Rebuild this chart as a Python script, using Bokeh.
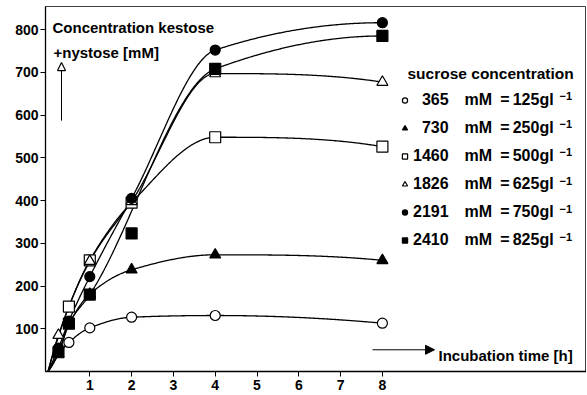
import numpy as np
from bokeh.plotting import figure
from bokeh.models import (FixedTicker, Arrow, NormalHead, Label, Legend,
                          LegendItem, Range1d)
from bokeh.embed import file_html
from bokeh.resources import INLINE

# ---------------- data ----------------
t_365 = [0.5, 1, 2, 4, 8]
v_365 = [68, 102, 127, 131, 113]
t_730 = [0.25, 0.5, 1, 2, 4, 8]
v_730 = [42, 110, 181, 238, 273, 260]
t_1460 = [0.5, 1, 2, 4, 8]
v_1460 = [152, 260, 395, 548, 526]
t_1826 = [0.25, 1, 2, 4, 8]
v_1826 = [85, 258, 398, 697, 677]
t_2191 = [0.25, 0.5, 1, 2, 4, 8]
v_2191 = [55, 118, 222, 405, 752, 816]
t_2410 = [0.25, 0.5, 1, 2, 4, 8]
v_2410 = [45, 112, 180, 323, 708, 785]
# points left out of the drawn fit curve (outlier in the original)
fit_skip_2410 = [2]

EM, EN, TH, FIG = "\u2003", "\u2002", "\u2009", "\u2007"
series_labels = [
    FIG + "365" + EM + "mM" + EN + "=" + TH + "125gl",
    FIG + "730" + EM + "mM" + EN + "=" + TH + "250gl",
    "1460" + EM + "mM" + EN + "=" + TH + "500gl",
    "1826" + EM + "mM" + EN + "=" + TH + "625gl",
    "2191" + EM + "mM" + EN + "=" + TH + "750gl",
    "2410" + EM + "mM" + EN + "=" + TH + "825gl",
]
unit_exponent = "\u22121"
x_ticks = [1, 2, 3, 4, 5, 6, 7, 8]
y_ticks = [100, 200, 300, 400, 500, 600, 700, 800]

FONT = "Liberation Sans"

# pixel <-> data helpers for annotation placement
X0, XS = 47.5, 41.8      # px of x=0, px per hour
Y0, YS = 370.7, 0.4271   # px of y=0, px per mM


def X(px):
    return (px - X0) / XS


def Y(py):
    return (Y0 - py) / YS


def pchip(x, y, xs):
    x = np.asarray(x, float)
    y = np.asarray(y, float)
    h = np.diff(x)
    d = np.diff(y) / h
    n = len(x)
    m = np.zeros(n)
    for k in range(1, n - 1):
        if d[k - 1] * d[k] > 0:
            w1 = 2 * h[k] + h[k - 1]
            w2 = h[k] + 2 * h[k - 1]
            m[k] = (w1 + w2) / (w1 / d[k - 1] + w2 / d[k])

    def end(h0, h1, d0, d1):
        mm = ((2 * h0 + h1) * d0 - h0 * d1) / (h0 + h1)
        if np.sign(mm) != np.sign(d0):
            mm = 0.0
        elif np.sign(d0) != np.sign(d1) and abs(mm) > abs(3 * d0):
            mm = 3 * d0
        return mm

    m[0] = end(h[0], h[1], d[0], d[1])
    m[-1] = end(h[-1], h[-2], d[-1], d[-2])
    idx = np.clip(np.searchsorted(x, xs) - 1, 0, n - 2)
    t = (xs - x[idx]) / h[idx]
    h00 = 2 * t**3 - 3 * t**2 + 1
    h10 = t**3 - 2 * t**2 + t
    h01 = -2 * t**3 + 3 * t**2
    h11 = t**3 - t**2
    return h00 * y[idx] + h10 * h[idx] * m[idx] + h01 * y[idx + 1] + h11 * h[idx] * m[idx + 1]


p = figure(width=586, height=394, output_backend="svg", toolbar_location=None,
           x_range=Range1d(X(45), X(586)), y_range=Range1d(0, Y(6)),
           min_border_left=45, min_border_right=0, min_border_top=6,
           min_border_bottom=23)
p.grid.visible = False
p.outline_line_color = "black"
p.outline_line_width = 1
p.outline_line_alpha = 0.75
p.background_fill_color = "white"

for ax in (p.xaxis[0], p.yaxis[0]):
    ax.axis_line_width = 1.3
    ax.axis_line_color = "black"
    ax.major_tick_in = 0
    ax.major_tick_out = 5
    ax.minor_tick_line_color = None
    ax.major_tick_line_color = "black"
    ax.major_label_text_font = FONT
    ax.major_label_text_font_style = "bold"
    ax.major_label_text_font_size = "14px"
    ax.major_label_text_color = "black"
    ax.major_label_standoff = 2
p.xaxis[0].major_label_standoff = 3
p.xaxis[0].ticker = FixedTicker(ticks=x_ticks)
p.yaxis[0].ticker = FixedTicker(ticks=y_ticks)

series = [
    (t_365, v_365, "circle", "white", 10, []),
    (t_730, v_730, "triangle", "black", 11, []),
    (t_1460, v_1460, "square", "white", 11, []),
    (t_1826, v_1826, "triangle", "white", 11, []),
    (t_2191, v_2191, "circle", "black", 10, []),
    (t_2410, v_2410, "square", "black", 11, fit_skip_2410),
]

xs = np.linspace(0, 8, 300)
for (tt, vv, mk, fill, sz, skip) in series:
    ft = [0] + [a for a in tt if a not in skip]
    fv = [0] + [b for a, b in zip(tt, vv) if a not in skip]
    p.line(xs, pchip(ft, fv, xs), line_color="black", line_width=1.3)

items = []
for (tt, vv, mk, fill, sz, skip), lab in zip(series, series_labels):
    r = p.scatter(tt, vv, marker=mk, size=sz, fill_color=fill,
                  line_color="black", line_width=1.2)
    items.append(LegendItem(label=lab, renderers=[r]))

legend = Legend(items=items, location=(353, 121), orientation="vertical",
                label_text_font=FONT, label_text_font_style="bold",
                label_text_font_size="16px", label_text_color="black",
                glyph_width=13, glyph_height=20, label_height=20,
                spacing=8, padding=0, margin=0, label_standoff=2,
                border_line_alpha=0, background_fill_alpha=0)
p.add_layout(legend)


def lbl(px, py, text, size="15px", baseline="alphabetic"):
    p.add_layout(Label(x=X(px), y=Y(py), text=text, text_font=FONT,
                       text_font_style="bold", text_font_size=size,
                       text_color="black", text_baseline=baseline))


lbl(52, 27, "Concentration kestose")
lbl(53, 52, "+nystose [mM]")
lbl(407, 73, "sucrose concentration", size="15.5px")
lbl(438, 355, "Incubation time [h]")
for row_y in [100, 128, 156, 185, 213, 241]:
    lbl(559, row_y - 5, unit_exponent, size="11px", baseline="middle")

p.add_layout(Arrow(x_start=X(61), y_start=Y(120), x_end=X(61), y_end=Y(62),
                   line_width=1, line_color="black",
                   end=NormalHead(size=8, fill_color="white", line_color="black",
                                  line_width=1.2)))
p.add_layout(Arrow(x_start=X(372), y_start=Y(349), x_end=X(434), y_end=Y(349),
                   line_width=1, line_color="black",
                   end=NormalHead(size=9, fill_color="black", line_color="black")))

open("out.html", "w").write(file_html(p, INLINE))
